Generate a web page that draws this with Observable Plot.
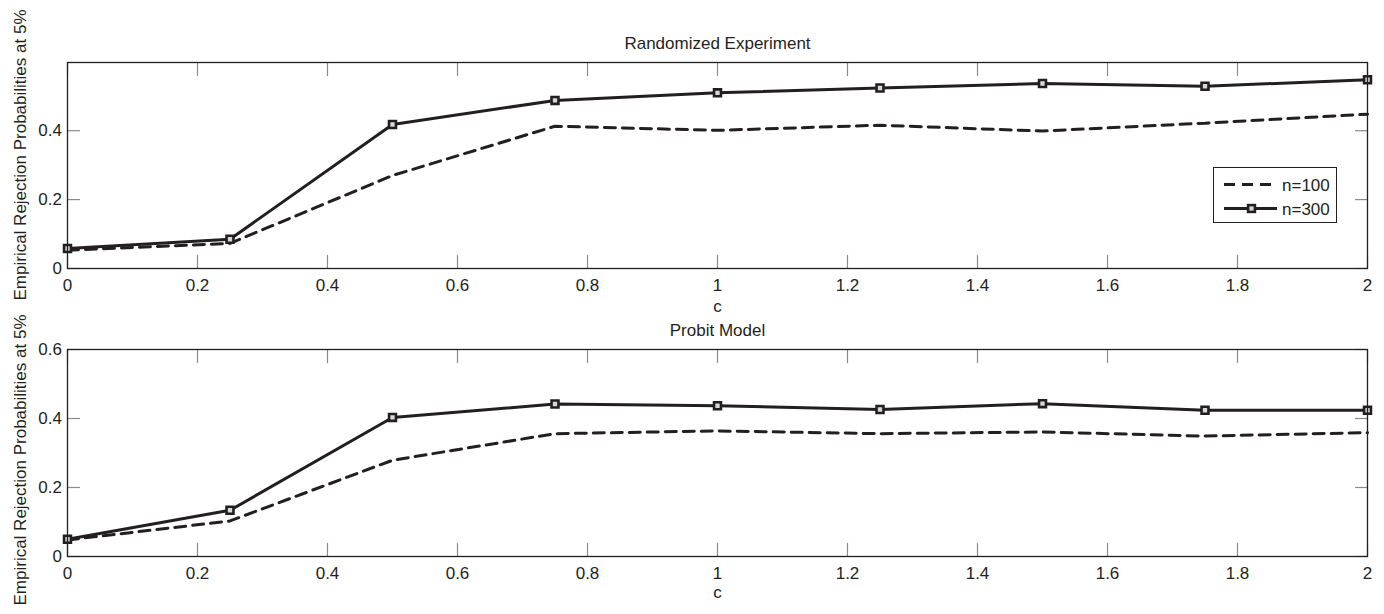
<!DOCTYPE html>
<html>
<head>
<meta charset="utf-8">
<script src="https://cdn.jsdelivr.net/npm/d3@7"></script>
<script src="https://cdn.jsdelivr.net/npm/@observablehq/plot@0.6"></script>
<style>
  html, body { margin: 0; padding: 0; background: #fff; }
  #wrap { position: relative; width: 1384px; height: 614px; overflow: hidden; font-family: "Liberation Sans", Arial, Helvetica, sans-serif; color: #231f20; }
  #wrap > svg { position: absolute; left: 0; }
  .ylab { position: absolute; width: 330px; height: 20px; line-height: 20px; font-size: 17px; text-align: center; white-space: nowrap; transform: rotate(-90deg); }
  #legend { position: absolute; left: 1213px; top: 167px; width: 124px; height: 56px; border: 1.3px solid #231f20; background: #fff; box-sizing: border-box; }
  #legend svg { position: absolute; left: 0; top: 0; }
</style>
</head>
<body>
<div id="wrap"></div>
<script>
// ---- data ----
const cValues = [0, 0.25, 0.5, 0.75, 1, 1.25, 1.5, 1.75, 2];
const seriesNames = ["n=100", "n=300"];
const randomizedN100 = [0.053, 0.073, 0.270, 0.413, 0.401, 0.416, 0.399, 0.422, 0.448];
const randomizedN300 = [0.058, 0.085, 0.418, 0.488, 0.510, 0.524, 0.537, 0.529, 0.548];
const probitN100 = [0.048, 0.103, 0.279, 0.356, 0.364, 0.356, 0.361, 0.349, 0.359];
const probitN300 = [0.050, 0.134, 0.403, 0.442, 0.437, 0.426, 0.443, 0.424, 0.424];
const xTicks = [0, 0.2, 0.4, 0.6, 0.8, 1, 1.2, 1.4, 1.6, 1.8, 2];
const yTicksTop = [0, 0.2, 0.4];
const yTicksBottom = [0, 0.2, 0.4, 0.6];
const titles = ["Randomized Experiment", "Probit Model"];
const xLabel = "c";
const yLabel = "Empirical Rejection Probabilities at 5%";

const INK = "#231f20";
const TICK = "#8a8a8a";
const FONT = "'Liberation Sans', Arial, Helvetica, sans-serif";

function rows(xs, ys) { return xs.map((x, i) => ({x, y: ys[i]})); }

function panel({n100, n300, title, yDomain, yTicks, marginTop, marginBottom, height, xLabelDy}) {
  const d100 = rows(cValues, n100);
  const d300 = rows(cValues, n300);
  return Plot.plot({
    width: 1384,
    height,
    marginLeft: 67,
    marginRight: 17,
    marginTop,
    marginBottom,
    style: {fontFamily: FONT, fontSize: "17px", color: INK, background: "transparent", overflow: "visible"},
    x: {domain: [0, 2], axis: null},
    y: {domain: yDomain, axis: null},
    marks: [
      Plot.line(d100, {x: "x", y: "y", stroke: INK, strokeWidth: 3, strokeDasharray: "11,7", strokeLinejoin: "miter"}),
      Plot.line(d300, {x: "x", y: "y", stroke: INK, strokeWidth: 3}),
      Plot.dot(d300, {x: "x", y: "y", symbol: "square", r: 3.9, fill: "#d9d9d9", stroke: INK, strokeWidth: 2.6}),
      // inward ticks on all sides
      Plot.axisX(xTicks, {anchor: "bottom", tickSize: -13, fill: "none", stroke: TICK, strokeWidth: 1.2, label: null}),
      Plot.axisX(xTicks, {anchor: "top", tickSize: -13, fill: "none", stroke: TICK, strokeWidth: 1.2, label: null}),
      Plot.axisY(yTicks, {anchor: "left", tickSize: -13, fill: "none", stroke: TICK, strokeWidth: 1.2, label: null}),
      Plot.axisY(yTicks, {anchor: "right", tickSize: -13, fill: "none", stroke: TICK, strokeWidth: 1.2, label: null}),
      // tick labels
      Plot.axisX(xTicks, {anchor: "bottom", tickSize: 0, tickPadding: 10, tickFormat: d => String(d), label: null, fill: INK}),
      Plot.axisY(yTicks, {anchor: "left", tickSize: 0, tickPadding: 5.5, tickFormat: d => String(d), label: null, fill: INK}),
      Plot.frame({stroke: INK, strokeWidth: 1.3}),
      Plot.text([title], {frameAnchor: "top", lineAnchor: "middle", dy: -19.4, fill: INK, fontSize: 17}),
      Plot.text([xLabel], {frameAnchor: "bottom", lineAnchor: "middle", dy: xLabelDy, fill: INK, fontSize: 17})
    ]
  });
}

const wrap = document.getElementById("wrap");

const topPlot = panel({n100: randomizedN100, n300: randomizedN300, title: titles[0],
  yDomain: [0, 0.598], yTicks: yTicksTop, marginTop: 62, marginBottom: 39, height: 307, xLabelDy: 38});
topPlot.style.top = "0px";
wrap.appendChild(topPlot);

const bottomPlot = panel({n100: probitN100, n300: probitN300, title: titles[1],
  yDomain: [0, 0.6], yTicks: yTicksBottom, marginTop: 42, marginBottom: 58, height: 307, xLabelDy: 36.5});
bottomPlot.style.top = "307px";
wrap.appendChild(bottomPlot);

// rotated y labels
[154.5, 460].forEach(cy => {
  const d = document.createElement("div");
  d.className = "ylab";
  d.textContent = yLabel;
  d.style.left = (21 - 165) + "px";
  d.style.top = (cy - 10) + "px";
  wrap.appendChild(d);
});

// legend
const leg = document.createElement("div");
leg.id = "legend";
const NS = "http://www.w3.org/2000/svg";
const lsvg = document.createElementNS(NS, "svg");
lsvg.setAttribute("width", 124);
lsvg.setAttribute("height", 56);
lsvg.style.fontFamily = FONT;
lsvg.style.fontSize = "17px";
const legStyles = [
  {dash: "11,7", marker: false, y: 16.5},
  {dash: null, marker: true, y: 40.5}
];
seriesNames.forEach((name, i) => {
  const s = legStyles[i];
  const ln = document.createElementNS(NS, "line");
  ln.setAttribute("x1", 10); ln.setAttribute("x2", 63);
  ln.setAttribute("y1", s.y); ln.setAttribute("y2", s.y);
  ln.setAttribute("stroke", INK); ln.setAttribute("stroke-width", 3);
  if (s.dash) ln.setAttribute("stroke-dasharray", s.dash);
  lsvg.appendChild(ln);
  if (s.marker) {
    const r = document.createElementNS(NS, "rect");
    r.setAttribute("x", 37.5 - 3.4); r.setAttribute("y", s.y - 3.4);
    r.setAttribute("width", 6.8); r.setAttribute("height", 6.8);
    r.setAttribute("fill", "#d9d9d9"); r.setAttribute("stroke", INK); r.setAttribute("stroke-width", 2.6);
    lsvg.appendChild(r);
  }
  const t = document.createElementNS(NS, "text");
  t.setAttribute("x", 68); t.setAttribute("y", s.y + 6);
  t.setAttribute("fill", INK);
  t.textContent = name;
  lsvg.appendChild(t);
});
leg.appendChild(lsvg);
wrap.appendChild(leg);
</script>
</body>
</html>
